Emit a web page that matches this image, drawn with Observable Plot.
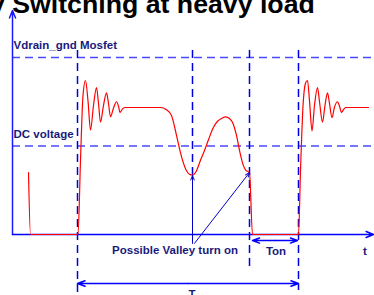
<!DOCTYPE html>
<html>
<head>
<meta charset="utf-8">
<script src="https://cdn.jsdelivr.net/npm/d3@7"></script>
<script src="https://cdn.jsdelivr.net/npm/@observablehq/plot@0.6"></script>
<style>
  html, body { margin: 0; padding: 0; background: #fff; overflow: hidden; }
  #wrap { position: relative; width: 374px; height: 295px; overflow: hidden; }
  #title { position: absolute; left: -10px; top: -9.5px; font: bold 26.7px "Liberation Sans", Arial, sans-serif; line-height: 26.7px; white-space: nowrap; color: #000; z-index: 2; }
  #chart { position: absolute; left: 0; top: 0; }
</style>
</head>
<body>
<div id="wrap">
  <div id="title">y Switching at heavy load</div>
  <div id="chart"></div>
</div>
<script>
// Drain voltage waveform (t in time units, v in units of DC voltage)
const waveT = [1.6, 1.8, 6.55, 6.8, 7.05, 7.3, 7.55, 7.8, 8.1, 8.4, 8.6, 8.8, 9.1, 9.4, 9.6, 9.8, 10.1, 10.4, 10.6, 10.75, 11.0, 11.3,
  14.8, 15.4, 15.9, 16.4, 16.7, 17.0, 17.4, 17.7, 18.0, 18.4, 18.8, 19.1, 19.6, 20.0, 20.5, 20.9, 21.3, 21.7, 22.1, 22.4, 22.7, 23.0, 23.3, 23.7,
  24.0, 28.6, 28.8, 29.05, 29.3, 29.5, 29.7, 29.95, 30.2, 30.5, 30.7, 31.0, 31.25, 31.5, 31.7, 31.95, 32.2, 32.5, 32.7, 32.9, 33.1, 33.3, 35.6];
const waveV = [0.70, 0, 0, 0.84, 1.57, 1.74, 1.51, 1.18, 1.46, 1.66, 1.48, 1.27, 1.46, 1.60, 1.48, 1.33, 1.43, 1.50, 1.45, 1.38, 1.42, 1.435,
  1.435, 1.41, 1.345, 1.12, 0.97, 0.84, 0.72, 0.68, 0.67, 0.72, 0.84, 0.92, 1.07, 1.19, 1.28, 1.31, 1.33, 1.31, 1.24, 1.12, 0.95, 0.81, 0.73, 0.70,
  0, 0, 0.72, 1.45, 1.71, 1.74, 1.51, 1.17, 1.46, 1.66, 1.50, 1.27, 1.46, 1.60, 1.48, 1.32, 1.44, 1.50, 1.45, 1.38, 1.41, 1.435, 1.435];

// Reference levels (dashed horizontal)
const levelV = [2, 1];
const levelNames = ["Vdrain_gnd Mosfet", "DC voltage"];

// Time markers (dashed vertical): position, bottom end
const markT = [6.5, 18.0, 23.7, 28.6];
const markBottom = [-0.667, 0.67, -0.384, -0.633];
const markTop = 2.08;

// Axes
const axisTEnd = 36.1;
const axisVEnd = 2.53;

// Annotation arrows (single head at end)
const arrowT1 = [18.0, 18.2];
const arrowV1 = [-0.10, -0.10];
const arrowT2 = [18.0, 23.7];
const arrowV2 = [0.665, 0.70];

// Double-headed span arrows: Ton and T
const spanNames = ["Ton", "T"];
const spanStart = [24.0, 6.5];
const spanEnd = [28.5, 28.6];
const spanV = [-0.068, -0.554];

// Text labels: left-aligned level names and centred annotations
const levelLabelT = [0.1, 0.1];
const levelLabelV = [2.10, 1.085];
const noteText = ["Possible Valley turn on", "Ton", "t", "T"];
const noteT = [16.25, 26.35, 35.25, 17.95];
const noteV = [-0.215, -0.226, -0.226, -0.723];

const wave = waveT.map((t, i) => ({t, v: waveV[i]}));
const marks = markT.map((t, i) => ({t, b: markBottom[i]}));
const arrows = arrowT1.map((t, i) => ({t1: t, v1: arrowV1[i], t2: arrowT2[i], v2: arrowV2[i]}));
const spans = [];
spanNames.forEach((n, i) => {
  const mid = (spanStart[i] + spanEnd[i]) / 2;
  spans.push({t1: mid, t2: spanStart[i], v: spanV[i]});
  spans.push({t1: mid, t2: spanEnd[i], v: spanV[i]});
});
const levelLabels = levelNames.map((s, i) => ({s, t: levelLabelT[i], v: levelLabelV[i]}));
const notes = noteText.map((s, i) => ({s, t: noteT[i], v: noteV[i]}));

const font = {fontFamily: "Liberation Sans, Arial, sans-serif", fontWeight: "bold", fontSize: 11.5, fill: "#1a1a7e"};

const chart = Plot.plot({
  width: 374,
  height: 295,
  margin: 0,
  style: {background: "#fff", overflow: "visible"},
  x: {domain: [0, 28.6], range: [12, 298], axis: null},
  y: {domain: [0, 2], range: [234, 57], axis: null},
  marks: [
    Plot.ruleY(levelV, {y: d => d, x1: 0, x2: 36.0, stroke: "#4a4aff", strokeWidth: 1.5, strokeDasharray: "8,5"}),
    Plot.ruleX(marks, {x: "t", y1: markTop, y2: "b", stroke: "#0000e0", strokeWidth: 1.5, strokeDasharray: "8,5"}),
    Plot.arrow([{a: 0}], {x1: 0, y1: 0, x2: 0, y2: axisVEnd, stroke: "#1a1aff", strokeWidth: 1.5, headLength: 8, headAngle: 45}),
    Plot.arrow([{a: 0}], {x1: 0, y1: 0, x2: axisTEnd, y2: 0, stroke: "#0000ff", strokeWidth: 1.5, headLength: 8, headAngle: 45}),
    Plot.line(wave, {x: "t", y: "v", stroke: "#ff0000", strokeWidth: 1.2, curve: "monotone-x"}),
    Plot.arrow(arrows, {x1: "t1", y1: "v1", x2: "t2", y2: "v2", stroke: "#0000c8", strokeWidth: 1, headLength: 7, headAngle: 45}),
    Plot.arrow(spans, {x1: "t1", y1: "v", x2: "t2", y2: "v", stroke: "#0000ff", strokeWidth: 1.5, headLength: 8, headAngle: 40}),
    Plot.text(levelLabels, {x: "t", y: "v", text: "s", textAnchor: "start", lineAnchor: "bottom", ...font}),
    Plot.text(notes, {x: "t", y: "v", text: "s", textAnchor: "middle", lineAnchor: "bottom", ...font})
  ]
});
document.getElementById("chart").appendChild(chart);
</script>
</body>
</html>
